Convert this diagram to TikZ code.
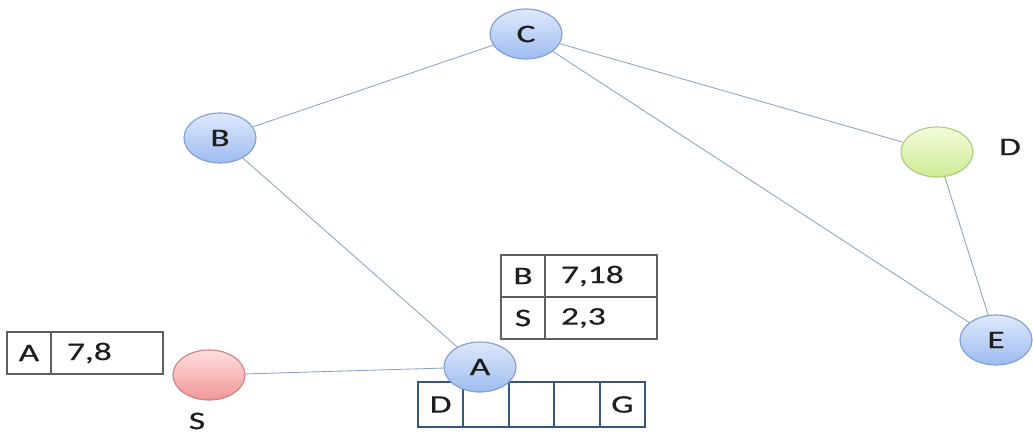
\documentclass[tikz,border=0pt]{standalone}
\usepackage{fontspec}
\setmainfont{Carlito}[FakeStretch=1.4, FakeBold=0.6]
\usetikzlibrary{positioning,shapes.geometric}

\definecolor{bluetop}{RGB}{222,233,252}
\definecolor{bluebot}{RGB}{158,188,240}
\definecolor{bluerim}{RGB}{128,158,210}
\definecolor{redtop}{RGB}{255,222,222}
\definecolor{redbot}{RGB}{240,150,150}
\definecolor{redrim}{RGB}{205,130,130}
\definecolor{greentop}{RGB}{244,252,218}
\definecolor{greenbot}{RGB}{205,235,150}
\definecolor{greenrim}{RGB}{172,202,128}
\definecolor{edgeblue}{RGB}{140,160,200}
\definecolor{tablegray}{RGB}{95,95,95}
\definecolor{slotblue}{RGB}{55,85,125}
\definecolor{ink}{RGB}{30,30,30}

\newcommand\figfont{\fontsize{18}{21}\selectfont}

\tikzset{
  vertex/.style={ellipse, draw=bluerim, line width=0.8pt, top color=bluetop,
    bottom color=bluebot, minimum width=1.8cm, minimum height=1.25cm,
    inner sep=0pt, font=\figfont, text=ink},
  redv/.style={draw=redrim, top color=redtop, bottom color=redbot},
  greenv/.style={draw=greenrim, top color=greentop, bottom color=greenbot},
  edge/.style={draw=edgeblue, line width=0.6pt},
  keycell/.style={draw=tablegray, line width=0.9pt, minimum width=1.1cm,
    minimum height=1.05cm, inner sep=0pt, outer sep=0pt, font=\figfont, text=ink},
  valcell/.style={keycell, minimum width=2.8cm, text width=2.0cm, align=left,
    inner xsep=0.4cm},
  slot/.style={draw=slotblue, line width=1.5pt, minimum width=1.135cm,
    minimum height=1.125cm, inner sep=0pt, outer sep=0pt, font=\figfont, text=ink}
}

\begin{document}
\begin{tikzpicture}[x=0.025cm, y=-0.025cm]
  \useasboundingbox (0,0) rectangle (1033,438);

  % Vertices
  \node[vertex] (c) at (526,34) {C};
  \node[vertex] (b) at (220,138) {B};
  \node[vertex, greenv] (d) at (937,152) {};
  \node[vertex] (e) at (996,340) {E};
  \node[vertex, redv] (s) at (209,375) {};

  % Labels beside the vertices
  \node[font=\figfont, text=ink] (dname) at (1010,147) {D};
  \node[font=\figfont, text=ink] (sname) at (197,421) {S};

  % Slots under A
  \node[slot, anchor=north west] (q1) at (418,382) {D};
  \foreach \i [count=\j from 2] in {1,2,3}
    \node[slot, right=0pt of q\i] (q\j) {};
  \node[slot, right=0pt of q4] (q5) {G};

  \node[vertex] (a) at (480,367) {A};

  % Edges
  \draw[edge] (b) -- (c);
  \draw[edge] (c) -- (d);
  \draw[edge] (c) -- (e);
  \draw[edge] (d) -- (e);
  \draw[edge] (b) -- (a);
  \draw[edge] (s) -- (a);

  % Table next to A
  \node[keycell, anchor=north west] (bkey) at (501,255) {B};
  \node[valcell, right=0pt of bkey] (bval) {7,18};
  \node[keycell, below=0pt of bkey] (skey) {S};
  \node[valcell, right=0pt of skey] (sval) {2,3};

  % Table next to S
  \node[keycell, anchor=north west] (akey) at (7,332) {A};
  \node[valcell, right=0pt of akey] (aval) {7,8};
\end{tikzpicture}
\end{document}
